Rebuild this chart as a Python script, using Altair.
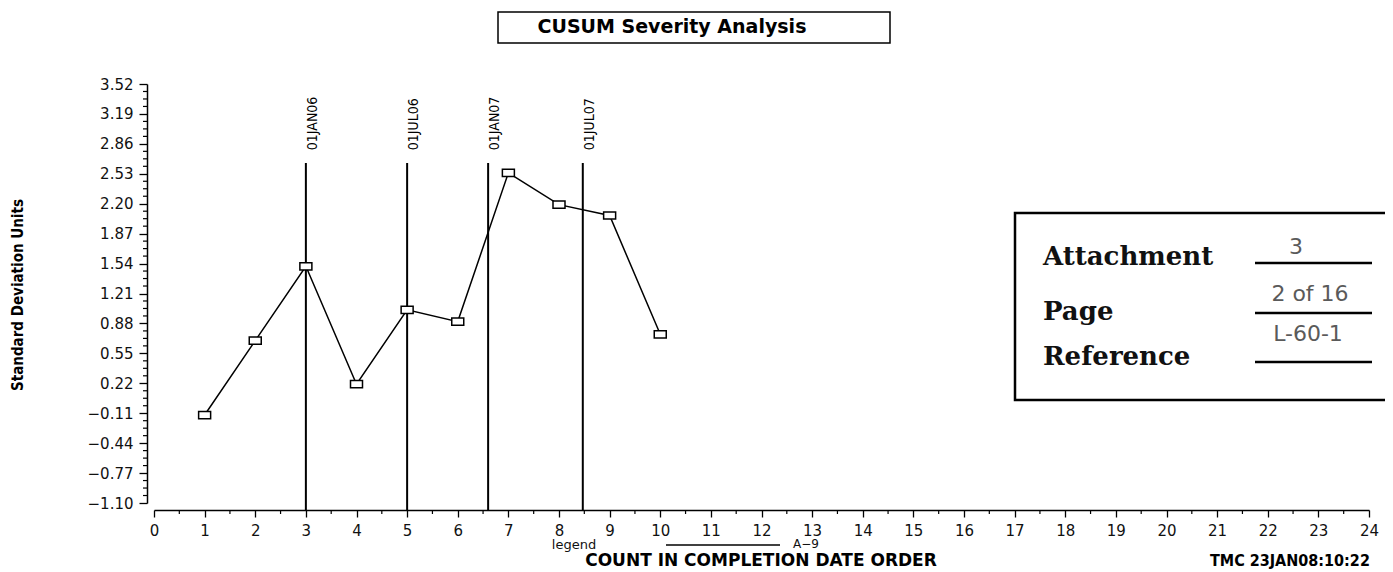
import altair as alt
import pandas as pd

# ---- data ----
count = list(range(1, 11))
cusum = [-0.13, 0.69, 1.51, 0.21, 1.03, 0.90, 2.54, 2.19, 2.07, 0.76]

ref_x = [3.0, 5.0, 6.6, 8.47]
ref_labels = ["01JAN06", "01JUL06", "01JAN07", "01JUL07"]
ref_top = [2.65, 2.65, 2.65, 2.65]
ref_label_y = [2.79, 2.79, 2.79, 2.79]

y_ticks = [3.52, 3.19, 2.86, 2.53, 2.20, 1.87, 1.54, 1.21, 0.88, 0.55,
           0.22, -0.11, -0.44, -0.77, -1.10]
x_ticks = list(range(0, 25))

# minor tick positions (between the labelled ticks)
y_minor = []
for a, b in zip(y_ticks[:-1], y_ticks[1:]):
    for k in (1, 2, 3):
        y_minor.append(round(a + (b - a) * k / 4, 4))
x_minor = [t + 0.5 for t in x_ticks[:-1]]

W, H = 1215, 419
OFF = 7

main_df = pd.DataFrame({"count": count, "cusum": cusum})
ref_df = pd.DataFrame({"x": ref_x, "label": ref_labels, "top": ref_top, "ly": ref_label_y})
ymin_df = pd.DataFrame({"v": y_minor})
xmin_df = pd.DataFrame({"v": x_minor})

xscale = alt.Scale(domain=[0, 24], nice=False, zero=False)
yscale = alt.Scale(domain=[-1.10, 3.52], nice=False, zero=False)

TICKFONT = "DejaVu Sans"
NARROW = "Liberation Sans Narrow, DejaVu Sans Condensed, Arial Narrow, sans-serif"

xaxis = alt.Axis(values=x_ticks, tickCount=40, format="d", title=None, offset=OFF,
                 tickSize=7, tickColor="black", tickWidth=1.3, domainColor="black",
                 domainWidth=1.5, labelFont=TICKFONT, labelFontSize=15, labelColor="#111",
                 labelPadding=6, grid=False, labelFlush=False, labelOverlap=False)
yaxis = alt.Axis(values=y_ticks, tickCount=30, format=".2f", title=None, offset=OFF,
                 tickSize=8, tickColor="black", tickWidth=1.3, domainColor="black",
                 domainWidth=1.5, labelFont=TICKFONT, labelFontSize=15, labelColor="#111",
                 labelPadding=6, grid=False, labelOverlap=False, labelFlush=False)

line = alt.Chart(main_df).mark_line(color="black", strokeWidth=1.5).encode(
    x=alt.X("count:Q", scale=xscale, axis=xaxis),
    y=alt.Y("cusum:Q", scale=yscale, axis=yaxis),
)
pts = alt.Chart(main_df).mark_point(
    shape="M-1,-0.6H1V0.6H-1Z", size=144, filled=True, fill="white",
    stroke="black", strokeWidth=1.5, opacity=1
).encode(x=alt.X("count:Q", scale=xscale), y=alt.Y("cusum:Q", scale=yscale))

rules = alt.Chart(ref_df).mark_rule(color="black", strokeWidth=2).encode(
    x=alt.X("x:Q", scale=xscale),
    y=alt.Y("top:Q", scale=yscale),
    y2=alt.value(H + OFF),
)
rule_labels = alt.Chart(ref_df).mark_text(
    angle=270, align="left", baseline="top", font=NARROW, fontSize=14, color="black"
).encode(
    x=alt.X("x:Q", scale=xscale),
    y=alt.Y("ly:Q", scale=yscale),
    text="label:N",
)

# minor ticks
yminor = alt.Chart(ymin_df).mark_rule(color="black", strokeWidth=1.2).encode(
    y=alt.Y("v:Q", scale=yscale), x=alt.value(-OFF - 4), x2=alt.value(-OFF)
)
xminor = alt.Chart(xmin_df).mark_rule(color="black", strokeWidth=1.2).encode(
    x=alt.X("v:Q", scale=xscale), y=alt.value(H + OFF), y2=alt.value(H + OFF + 4)
)


def text_layer(txt, x, y, **kw):
    d = pd.DataFrame({"t": [txt]})
    return alt.Chart(d).mark_text(**kw).encode(
        x=alt.value(x), y=alt.value(y), text="t:N"
    )


def box(x1, x2, y1, y2, sw):
    d = pd.DataFrame({"b": [1]})
    return alt.Chart(d).mark_rect(fill="white", stroke="black", strokeWidth=sw).encode(
        x=alt.value(x1), x2=alt.value(x2), y=alt.value(y1), y2=alt.value(y2)
    )


def hline(x1, x2, y, sw=2.5):
    d = pd.DataFrame({"b": [1]})
    return alt.Chart(d).mark_rule(color="black", strokeWidth=sw).encode(
        x=alt.value(x1), x2=alt.value(x2), y=alt.value(y)
    )


title_box = box(344, 736, -72, -41, 1.5)
title_txt = text_layer("CUSUM Severity Analysis", 518, -57, font="DejaVu Sans",
                       fontSize=19, fontWeight="bold", align="center",
                       baseline="middle", color="black")

y_title = text_layer("Standard Deviation Units", -136, 211, font=NARROW, fontSize=15,
                     fontWeight="bold", angle=270, align="center",
                     baseline="middle", color="black")

x_title = text_layer("COUNT IN COMPLETION DATE ORDER", 607, 477, font="DejaVu Sans",
                     fontSize=17, fontWeight="bold", align="center",
                     baseline="middle", color="black")
legend_txt = text_layer("legend", 420, 461, font=TICKFONT, fontSize=13, align="center",
                        baseline="middle", color="#111")
overline = hline(512, 626, 461, 1.3)
a9_txt = text_layer("A\u22129", 639, 460, font=TICKFONT, fontSize=12, align="left",
                    baseline="middle", color="#111")
tmc_txt = text_layer("TMC   23JAN08:10:22", 1056, 477, font=NARROW, fontSize=16,
                     fontWeight="bold", align="left", baseline="middle", color="black")

att_box = box(861, 1300, 129, 316, 2.5)
SERIF = "DejaVu Serif"
att_lbls = [
    text_layer("Attachment", 889, 181, font=SERIF, fontSize=26,
               fontWeight="bold", align="left", baseline="alphabetic", color="#111"),
    text_layer("Page", 889, 236, font=SERIF, fontSize=26,
               fontWeight="bold", align="left", baseline="alphabetic", color="#111"),
    text_layer("Reference", 889, 281, font=SERIF, fontSize=26,
               fontWeight="bold", align="left", baseline="alphabetic", color="#111"),
]
att_lines = [hline(1101, 1218, 179), hline(1101, 1218, 229), hline(1101, 1218, 278)]
HAND = "#5a5a5a"
hand = [
    text_layer("3", 1142, 163, font="DejaVu Sans", fontSize=22,
               align="center", baseline="middle", color=HAND),
    text_layer("2 of 16", 1156, 210, font="DejaVu Sans", fontSize=22,
               align="center", baseline="middle", color=HAND),
    text_layer("L-60-1", 1154, 250, font="DejaVu Sans", fontSize=22,
               align="center", baseline="middle", color=HAND),
]

chart = alt.layer(
    rules, line, pts, rule_labels, yminor, xminor,
    title_box, title_txt, y_title, x_title, legend_txt, overline, a9_txt, tmc_txt,
    att_box, *att_lbls, *att_lines, *hand
).properties(
    width=W, height=H,
    padding={"left": 146, "top": 76, "right": 16, "bottom": 67},
    autosize=alt.AutoSizeParams(type="none"),
    background="white",
).configure_view(stroke=None)

chart.save("out.html", embed_options={"renderer": "svg", "actions": False})
